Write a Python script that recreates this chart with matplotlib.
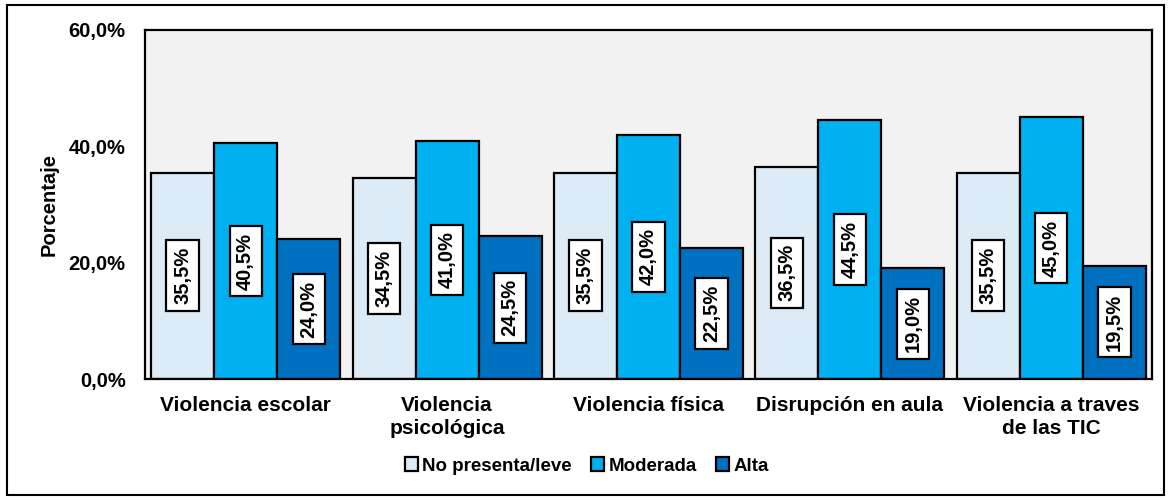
import matplotlib.pyplot as plt
from matplotlib.patches import Rectangle
import numpy as np

plt.rcParams["font.family"] = ["Liberation Sans", "DejaVu Sans"]
plt.rcParams["font.weight"] = "bold"

categories = ["Violencia escolar", "Violencia\npsicológica", "Violencia física",
              "Disrupción en aula", "Violencia a traves\nde las TIC"]
series_names = ["No presenta/leve", "Moderada", "Alta"]
no_presenta = [35.5, 34.5, 35.5, 36.5, 35.5]
moderada = [40.5, 41.0, 42.0, 44.5, 45.0]
alta = [24.0, 24.5, 22.5, 19.0, 19.5]
y_ticks = [0, 20, 40, 60]

colors = ["#DDEBF7", "#00B0F0", "#0070C0"]

fig = plt.figure(figsize=(11.71, 5.0), dpi=100)
ax = fig.add_axes([0.1238, 0.242, 0.86, 0.698])
ax.set_facecolor("#F2F2F2")

x = np.arange(len(categories))
width = 0.313
for i, (vals, name) in enumerate(zip([no_presenta, moderada, alta], series_names)):
    pos = x + (i - 1) * width
    ax.bar(pos, vals, width, color=colors[i], edgecolor="black", linewidth=1.6,
           label=name, zorder=2)
    for p, v in zip(pos, vals):
        ax.text(p, v / 2, f"{v:.1f}%".replace(".", ","), rotation=90,
                ha="center", va="center", fontsize=14.5, fontweight="bold",
                bbox=dict(boxstyle="square,pad=0.33", facecolor="white",
                          edgecolor="black", linewidth=1.6), zorder=3)

ax.set_xlim(-0.5, len(categories) - 0.5)
ax.set_ylim(0, 60)
ax.set_yticks(y_ticks)
ax.set_yticklabels([f"{t:.1f}%".replace(".", ",") for t in y_ticks],
                   fontsize=14.5, fontweight="bold")
ax.set_xticks(x)
ax.set_xticklabels(categories, fontsize=15, fontweight="bold", linespacing=1.3)
ax.tick_params(axis="both", length=0)
ax.tick_params(axis="y", pad=14)
ax.tick_params(axis="x", pad=12)
for s in ax.spines.values():
    s.set_linewidth(1.6)
ax.set_ylabel("Porcentaje", fontsize=14.5, fontweight="bold", labelpad=7)

fig.legend(loc="center", bbox_to_anchor=(0.501, 0.068), ncol=3, frameon=False,
           handlelength=0.7, handleheight=0.7, handletextpad=0.25,
           columnspacing=1.0, prop={"weight": "bold", "size": 13.5})

fig.patches.append(Rectangle((0.006, 0.01), 0.988, 0.98, transform=fig.transFigure,
                             fill=False, edgecolor="black", linewidth=1.5))

fig.savefig("out.png", dpi=100)
